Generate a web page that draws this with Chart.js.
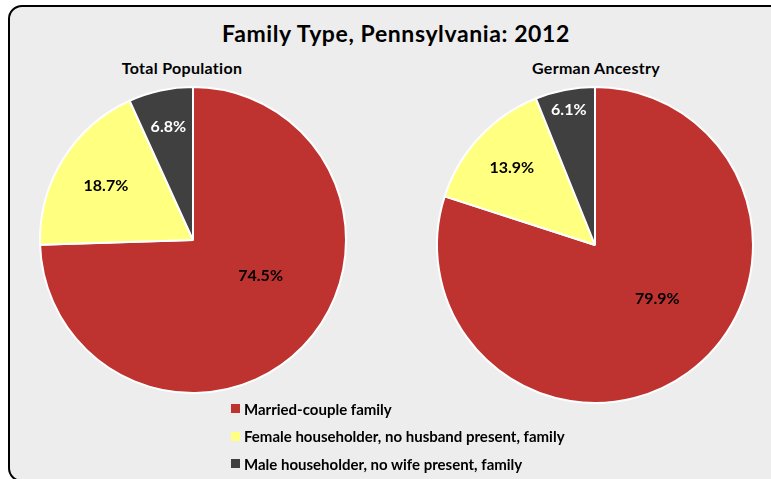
<!DOCTYPE html>
<html>
<head>
<meta charset="utf-8">
<script src="https://cdn.jsdelivr.net/npm/chart.js@4.4.1/dist/chart.umd.min.js"></script>
<style>
  html, body { margin: 0; padding: 0; background: #fff; overflow: hidden; }
  body { width: 771px; height: 479px; position: relative; font-family: Lato, "Open Sans", sans-serif; }
  #frame {
    position: absolute; left: 8px; top: 5px; width: 790px; height: 473px;
    background: #ededed; border: 2px solid #000; border-radius: 14px;
  }
  .txt { position: absolute; font-weight: bold; color: #000; white-space: nowrap; transform: translateX(-50%); }
  #title { left: 396px; top: 19px; font-size: 23px; letter-spacing: 0.6px; }
  .sub { top: 58px; font-size: 16px; letter-spacing: 0.3px; }
  .box { position: absolute; width: 330px; height: 330px; }
  #legend { position: absolute; left: 231px; top: 395px; font-size: 15px; font-weight: bold; }
  #legend div { height: 27.5px; display: flex; align-items: center; }
  #legend span.sw { display: inline-block; width: 9px; height: 9px; margin-right: 4px; }
</style>
</head>
<body>
<div id="frame"></div>
<div id="title" class="txt">Family Type, Pennsylvania: 2012</div>
<div class="txt sub" style="left:182px">Total Population</div>
<div class="txt sub" style="left:596px">German Ancestry</div>
<div class="box" style="left:28px; top:75px"><canvas id="leftPie"></canvas></div>
<div class="box" style="left:430px; top:80px"><canvas id="rightPie"></canvas></div>
<div id="legend"></div>

<script>
// Data
const categories = [
    'Married-couple family',
    'Female householder, no husband present, family',
    'Male householder, no wife present, family'
];
const totalPopulation = [74.5, 18.7, 6.8];
const germanAncestry = [79.9, 13.9, 6.1];
const sliceColors = ['#be3330', '#ffff80', '#404040'];
const labelColors = ['#000', '#000', '#fff'];

// draws the percent labels inside the slices
const sliceLabels = {
    id: 'sliceLabels',
    afterDatasetsDraw(chart, args, opts) {
        const ctx = chart.ctx;
        const meta = chart.getDatasetMeta(0);
        const values = chart.data.datasets[0].data;
        ctx.save();
        ctx.font = 'bold 16px Lato, "Open Sans", sans-serif';
        ctx.textAlign = 'center';
        ctx.textBaseline = 'middle';
        meta.data.forEach((arc, i) => {
            const mid = (arc.startAngle + arc.endAngle) / 2;
            const r = arc.outerRadius * opts.radii[i];
            const x = arc.x + Math.cos(mid) * r + (opts.shift ? opts.shift[i][0] : 0);
            const y = arc.y + Math.sin(mid) * r + (opts.shift ? opts.shift[i][1] : 0);
            ctx.fillStyle = labelColors[i];
            ctx.fillText(values[i].toFixed(1) + '%', x, y);
        });
        ctx.restore();
    }
};

function createPie(canvasId, values, radius, radii, shift) {
    const ctx = document.getElementById(canvasId).getContext('2d');
    return new Chart(ctx, {
        type: 'pie',
        data: {
            labels: categories,
            datasets: [{
                data: values,
                backgroundColor: sliceColors,
                borderColor: '#ffffff',
                borderWidth: 2,
                hoverOffset: 0
            }]
        },
        options: {
            responsive: false,
            animation: false,
            radius: radius,
            layout: { padding: 0 },
            plugins: {
                legend: { display: false },
                tooltip: { enabled: false },
                sliceLabels: { radii: radii, shift: shift }
            }
        },
        plugins: [sliceLabels]
    });
}

for (const id of ['leftPie', 'rightPie']) {
    const c = document.getElementById(id);
    c.width = 330; c.height = 330;
}

createPie('leftPie', totalPopulation, 153, [0.47, 0.67, 0.76], [[16, -14], [0, 0], [0, 0]]);
createPie('rightPie', germanAncestry, 158, [0.52, 0.72, 0.87], [[14, -13], [0, 0], [0, 0]]);

// HTML legend
const legend = document.getElementById('legend');
categories.forEach((name, i) => {
    const row = document.createElement('div');
    row.innerHTML = '<span class="sw" style="background:' + sliceColors[i] + '"></span>' + name;
    legend.appendChild(row);
});
</script>
</body>
</html>
